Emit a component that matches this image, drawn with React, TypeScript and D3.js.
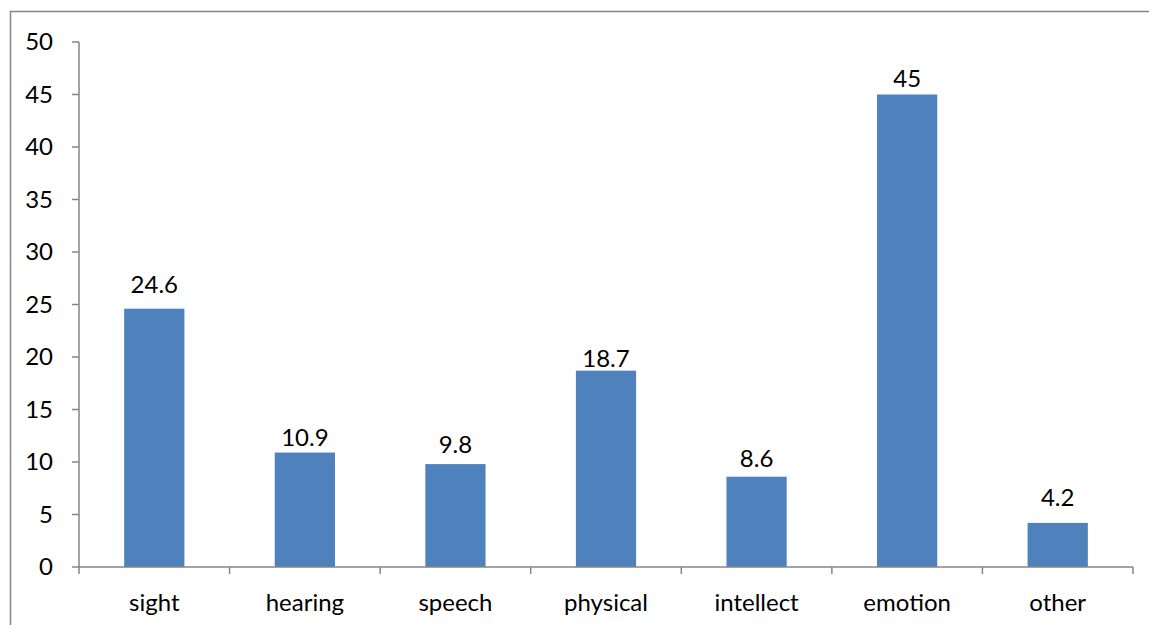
import React from "react";
import * as d3 from "d3";

const categories = ["sight", "hearing", "speech", "physical", "intellect", "emotion", "other"];
const values = [24.6, 10.9, 9.8, 18.7, 8.6, 45, 4.2];
const yTicks = [0, 5, 10, 15, 20, 25, 30, 35, 40, 45, 50];
// gap (px) between each bar top and its value label baseline, as in the reference
const labelGaps = [16, 7, 11, 4, 10, 8, 17];

const W = 1149;
const H = 625;
const left = 79;
const right = 1133;
const top = 42;
const bottom = 567;
const FONT = "Lato, 'Open Sans', sans-serif";
const FS = 24;

export default function App() {
  const x = d3.scaleBand<string>().domain(categories).range([left, right]).paddingInner(0).paddingOuter(0);
  const y = d3.scaleLinear().domain([0, 50]).range([bottom, top]);
  const bw = x.bandwidth() * 0.4;
  const axisColor = "#868686";
  return (
    <svg width={W} height={H} style={{ position: "absolute", left: 0, top: 0, background: "#fff" }}>
      <rect x={10.5} y={11.5} width={W + 10} height={H + 10} fill="none" stroke={axisColor} strokeWidth={1.5} />
      {values.map((v, i) => {
        const cx = (x(categories[i]) as number) + x.bandwidth() / 2;
        return (
          <g key={categories[i]}>
            <rect x={cx - bw / 2} y={y(v)} width={bw} height={y(0) - y(v)} fill="#4F81BD" />
            <text x={cx} y={y(v) - labelGaps[i]} textAnchor="middle" fontFamily={FONT} fontSize={FS} fill="#000">
              {String(v)}
            </text>
            <text x={cx} y={611} textAnchor="middle" fontFamily={FONT} fontSize={FS} fill="#000">
              {categories[i]}
            </text>
          </g>
        );
      })}
      <line x1={left} x2={left} y1={top} y2={bottom} stroke={axisColor} strokeWidth={1.5} />
      <line x1={left} x2={right} y1={bottom} y2={bottom} stroke={axisColor} strokeWidth={1.5} />
      {yTicks.map((t) => (
        <g key={t}>
          <line x1={left - 7} x2={left} y1={y(t)} y2={y(t)} stroke={axisColor} strokeWidth={1.5} />
          <text x={53} y={y(t) + 8} textAnchor="end" fontFamily={FONT} fontSize={FS} fill="#000">
            {t}
          </text>
        </g>
      ))}
      {d3.range(categories.length + 1).map((i) => {
        const xx = left + i * x.step();
        return <line key={i} x1={xx} x2={xx} y1={bottom} y2={bottom + 7} stroke={axisColor} strokeWidth={1.5} />;
      })}
    </svg>
  );
}
